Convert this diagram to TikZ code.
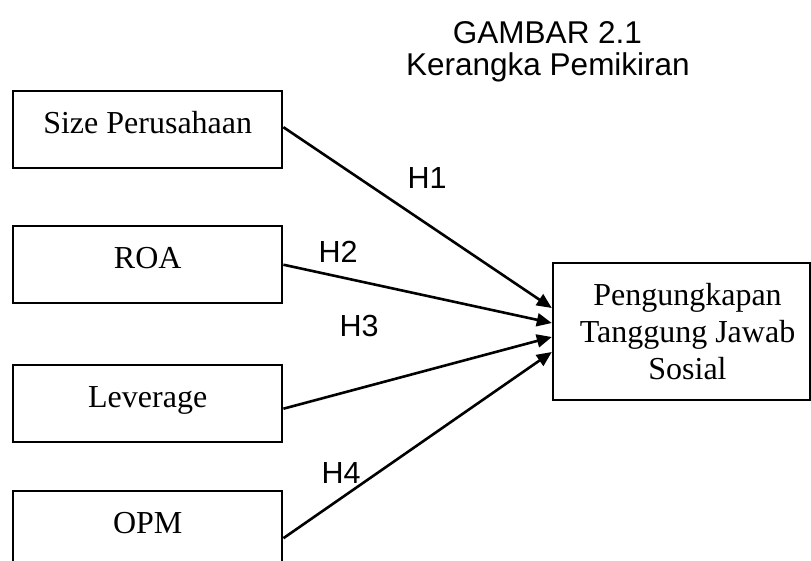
\documentclass[tikz,border=0pt]{standalone}
\usepackage{fontspec}
\setmainfont{Liberation Serif}
\newfontfamily\arialf{Liberation Sans}
\usetikzlibrary{arrows.meta}
\begin{document}
\begin{tikzpicture}[x=1pt,y=-1pt,
  inbox/.style={draw, line width=2.4pt, anchor=north west, minimum width=269pt,
    inner xsep=0pt, inner ysep=0pt, text height=42.5pt, text depth=34.5pt,
    font=\fontsize{32}{37}\selectfont},
  outbox/.style={draw, line width=2.4pt, minimum width=257pt, minimum height=137pt,
    align=center, inner sep=0pt, font=\fontsize{32}{37}\selectfont},
  conn/.style={line width=2.6pt, -{Triangle[length=15pt,width=13pt]}},
  hlab/.style={font=\arialf\fontsize{30.5}{31}\selectfont, inner sep=0pt},
  ttl/.style={font=\arialf\fontsize{31.5}{32}\selectfont, inner sep=0pt, anchor=base}]
\path[use as bounding box, clip] (0,0) rectangle (811,560);
\fill[white] (0,0) rectangle (811,560);

\node[ttl] (t1) at (547.5,43) {GAMBAR 2.1};
\node[ttl] (t2) at (548,75) {Kerangka Pemikiran};

\node[inbox] (b1) at (12,90) {Size Perusahaan};
\node[inbox] (b2) at (12,225) {ROA};
\node[inbox] (b3) at (12,364) {Leverage};
\node[inbox] (b4) at (12,490) {OPM};

\node[outbox] (rb) at (681.5,331.5) {\hspace*{12pt}Pengungkapan\\\hspace*{12pt}Tanggung Jawab\\\hspace*{12pt}Sosial};

\draw[conn] ([yshift=2.5pt]b1.east) -- ([yshift=23.5pt]rb.west);
\draw[conn] (b2.east) -- ([yshift=8.5pt]rb.west);
\draw[conn] ([yshift=-5pt]b3.east) -- ([yshift=-5.5pt]rb.west);
\draw[conn] ([yshift=-8.5pt]b4.east) -- ([yshift=-20.5pt]rb.west);

\node[hlab] (h1) at (427,178) {H1};
\node[hlab] (h2) at (338,252) {H2};
\node[hlab] (h3) at (359,326) {H3};
\node[hlab] (h4) at (341,473) {H4};
\end{tikzpicture}
\end{document}
